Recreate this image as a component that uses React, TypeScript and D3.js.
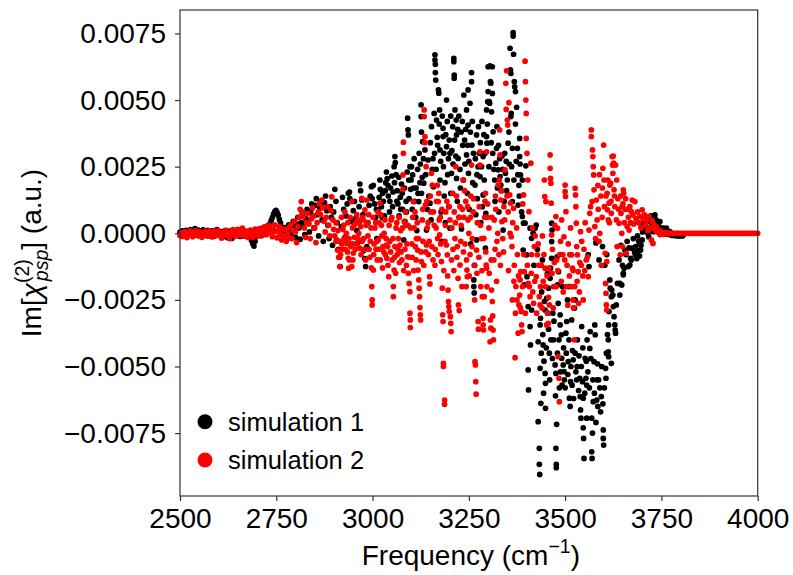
import React from "react";
import * as d3 from "d3";

// values are Im[chi] in units of 1e-4 (a.u.), frequency in cm^-1
const VALUE_UNIT = 1e-4;

const sim1: [number, number][] = [
  [2500,0.4],[2503,-0.6],[2506,0.9],[2509,0.1],[2512,-0.4],[2515,1.1],[2518,0.5],[2521,-0.2],[2524,0.8],[2527,1.4],
  [2530,0.6],[2533,-0.3],[2536,0.7],[2539,1.8],[2542,1.0],[2545,0.2],[2548,1.2],[2551,0.5],[2554,-0.5],[2557,0.8],
  [2560,1.3],[2563,0.3],[2566,-0.7],[2569,0.4],[2572,1.1],[2575,0.3],[2578,-0.9],[2581,0.2],[2584,0.9],[2587,0.1],
  [2590,-1.0],[2593,0.5],[2596,1.4],[2599,0.3],[2602,-0.6],[2605,0.6],[2608,-0.2],[2611,-1.3],[2614,0.4],[2617,1.0],
  [2620,-0.3],[2623,-1.6],[2626,0.1],[2629,0.8],[2632,-0.4],[2635,-1.9],[2638,-0.6],[2641,0.5],[2644,-0.8],[2647,0.2],
  [2650,1.0],[2653,-0.5],[2656,-1.2],[2659,0.3],[2662,-0.9],[2665,-0.2],[2668,0.6],[2671,-1.1],[2674,-0.3],[2677,0.7],
  [2680,-0.6],[2683,-1.8],[2686,-2.8],[2689,-3.9],[2692,-4.8],[2695,-3.0],[2698,-1.2],[2701,0.3],[2704,1.5],[2707,0.6],
  [2710,-0.9],[2713,0.8],[2716,2.0],[2719,1.1],[2722,-0.4],[2725,1.6],[2728,2.9],[2731,1.8],[2734,3.6],[2737,4.9],
  [2740,6.0],[2743,7.2],[2746,8.1],[2749,8.6],[2752,7.9],[2755,6.8],[2758,5.2],[2761,3.9],[2764,2.3],[2767,1.0],
  [2770,2.1],[2773,0.4],[2776,-1.2],[2779,1.5],[2782,3.2],[2785,0.8],[2788,-0.8],[2791,2.4],[2794,4.5],[2797,1.6],
  [2800,-1.5],[2803,3.5],[2806,6.0],[2809,2.0],[2812,-2.2],[2815,4.0],[2818,7.5],[2821,3.0],[2824,-0.5],[2827,5.5],
  [2830,9.0],[2833,4.2],[2836,0.5],[2839,8.0],[2842,11.0],[2845,6.5],[2848,2.0],[2851,10.5],[2854,13.0],[2857,7.0],
  [2860,-1.0],[2863,9.5],[2866,12.0],[2869,5.0],[2872,-3.0],[2875,11.5],[2878,14.0],[2881,8.5],[2884,3.0],[2887,-2.0],
  [2890,10.0],[2893,6.0],[2896,-4.5],[2899,8.0],
  [2902,16.5],[2905,12.0],[2908,4.0],[2911,-6.0],[2914,-9.0],[2916,-12.5],[2919,2.5],[2922,13.5],[2925,9.0],[2928,-1.5],
  [2931,6.5],[2934,11.0],[2937,15.0],[2940,15.5],[2941,13.0],[2944,4.5],[2947,-4.0],[2950,8.5],[2953,12.0],[2956,5.5],
  [2959,1.0],[2962,-3.5],[2965,10.0],[2967,18.5],[2969,16.0],[2972,12.5],[2975,7.0],[2977,-6.5],[2980,-9.5],[2982,-12.5],
  [2985,-5.0],[2988,4.0],[2991,10.5],[2994,14.0],[2997,17.5],[2999,13.0],
  [3002,18.0],[3005,11.0],[3008,6.0],[3010,9.0],[3011,-2.0],[3014,8.5],[3017,13.5],[3019,20.0],[3020,16.5],[3023,10.0],
  [3025,6.0],[3026,15.0],[3028,12.0],[3031,6.5],[3033,16.0],[3034,19.0],[3036,23.0],[3038,20.5],[3040,18.0],[3041,14.0],
  [3044,8.0],[3045,12.0],[3047,17.0],[3050,21.5],[3052,10.0],[3053,15.5],[3056,25.0],[3057,19.0],[3058,28.8],[3059,26.5],
  [3061,22.0],[3063,12.0],[3064,16.0],[3066,11.0],[3068,21.0],[3069,6.5],[3072,13.5],[3073,9.0],[3075,18.5],[3077,15.0],
  [3078,9.0],[3081,-2.5],[3083,17.0],[3084,4.5],[3087,12.0],[3088,8.0],[3090,23.0],[3091,43.2],[3092,38.8],[3093,36.9],
  [3094,20.0],[3095,13.0],[3097,25.0],[3099,16.5],[3100,20.0],
  [3101,25.0],[3103,9.0],[3104,21.9],[3106,17.0],[3108,28.0],[3109,12.0],[3112,6.0],[3113,17.0],[3115,1.0],[3117,24.0],
  [3118,15.0],[3120,11.9],[3121,30.0],[3123,19.0],[3124,26.0],[3126,48.2],[3126,43.8],[3127,38.0],[3127,15.0],[3129,21.0],
  [3130,34.4],[3132,28.0],[3133,18.8],[3136,31.3],[3138,22.0],[3140,1.2],[3142,9.0],[3144,27.5],[3146,14.0],[3149,11.3],
  [3150,34.0],[3152,5.0],[3153,40.0],[3155,24.0],[3157,28.0],[3158,17.5],[3160,45.0],[3161,30.0],[3162,67.0],[3162,65.0],
  [3163,63.4],[3163,60.3],[3164,57.5],[3165,24.0],[3166,42.5],[3168,36.0],[3169,33.0],[3171,53.8],[3172,52.6],[3173,41.0],
  [3174,46.3],[3175,31.3],[3175,20.0],[3177,27.0],[3178,8.0],[3180,-3.0],[3181,44.0],[3183,39.4],[3183,36.3],[3184,25.0],
  [3185,30.0],[3186,14.0],[3188,19.0],[3189,4.0],[3190,37.0],[3192,50.0],[3192,32.5],[3194,42.0],[3195,22.0],[3197,28.0],
  [3198,10.0],[3199,35.0],
  [3201,30.0],[3201,1.9],[3203,15.0],[3203,44.0],[3205,22.5],[3206,31.0],[3208,40.0],[3209,26.0],[3211,65.7],[3211,64.4],
  [3212,59.4],[3212,58.2],[3213,35.0],[3214,46.3],[3216,29.0],[3217,42.5],[3218,36.9],[3218,20.6],[3220,12.0],[3221,39.0],
  [3222,28.1],[3224,44.0],[3225,6.0],[3227,24.0],[3228,17.0],[3230,38.0],[3231,1.6],[3233,42.0],[3234,33.0],[3236,20.0],
  [3237,51.9],[3239,35.0],[3240,26.0],[3242,39.0],[3244,46.3],[3244,29.4],[3246,15.0],[3247,33.0],[3248,53.8],[3248,40.6],
  [3249,22.5],[3250,27.0],[3251,9.0],[3253,48.8],[3254,38.0],[3255,-4.0],[3257,60.3],[3257,56.9],[3258,33.1],[3259,42.0],
  [3260,19.0],[3262,30.0],[3263,-17.5],[3263,-20.0],[3264,-22.4],[3265,-12.0],[3266,18.1],[3267,28.0],[3268,7.0],[3270,36.9],
  [3270,-2.5],[3271,22.0],[3272,13.0],[3274,25.0],[3275,40.0],[3277,30.0],[3279,21.3],[3280,34.0],[3281,4.0],[3283,25.0],
  [3284,42.0],[3285,10.0],[3287,28.8],[3287,14.4],[3289,37.0],[3290,20.0],[3292,30.0],[3293,-5.6],[3294,7.5],[3296,46.3],
  [3296,36.3],[3297,33.8],[3298,41.0],[3299,49.4],[3300,62.5],[3300,53.2],
  [3302,25.0],[3303,49.4],[3304,48.8],[3305,62.8],[3306,56.9],[3307,56.3],[3308,34.0],[3309,45.6],[3311,62.5],[3311,52.5],
  [3312,30.0],[3313,38.1],[3315,24.0],[3317,20.0],[3318,12.0],[3320,26.3],[3322,31.9],[3323,40.0],[3324,17.0],[3326,23.8],
  [3327,33.0],[3328,8.0],[3330,28.0],[3331,21.3],[3333,18.1],[3334,16.0],[3336,29.0],[3338,24.0],[3339,1.2],[3342,12.0],
  [3343,30.0],[3345,22.5],[3347,27.0],[3348,16.0],[3350,20.0],[3352,33.8],[3352,14.4],[3354,38.0],[3355,26.0],[3357,69.4],
  [3358,61.3],[3359,60.0],[3359,43.8],[3360,45.0],[3361,25.0],[3363,31.9],[3363,11.9],[3365,75.3],[3365,74.0],[3366,67.2],
  [3367,20.0],[3368,56.9],[3369,55.0],[3371,53.2],[3371,41.0],[3373,27.0],[3374,47.3],[3376,31.9],[3377,22.0],[3378,10.6],
  [3380,18.0],[3381,14.0],[3382,35.6],[3382,28.8],[3383,26.0],[3384,21.9],[3387,8.0],[3389,20.0],[3389,6.3],[3391,-6.3],
  [3392,3.8],[3394,-19.4],[3396,3.8],[3398,25.3],[3400,-8.1],[3401,-16.3],[3404,-27.5],[3404,-51.3],[3405,-58.8],[3409,1.9],
  [3409,-35.0],[3410,-41.9],[3413,-1.9],[3413,-28.8],[3417,0.0],[3419,-12.0],
  [3422,1.9],[3425,3.1],[3428,-6.0],[3430,-40.7],[3430,-70.7],[3433,-80.7],[3433,-86.7],[3434,-90.5],[3435,-34.4],[3435,-50.7],
  [3436,-31.9],[3437,-63.8],[3438,-45.0],[3439,-22.0],[3441,-10.0],[3442,-38.0],[3443,-41.9],[3444,-60.0],[3445,-48.0],[3446,-25.6],
  [3448,-28.8],[3448,-52.6],[3449,-56.3],[3449,-65.7],[3451,-43.0],[3452,-24.4],[3454,-15.0],[3455,-30.0],[3457,-20.6],[3457,-36.0],
  [3459,-45.0],[3460,-55.0],[3461,-16.9],[3462,-13.1],[3463,-40.0],[3465,-9.4],[3465,-3.1],[3465,3.8],[3466,1.2],[3467,-47.0],
  [3468,-30.0],[3470,-40.0],[3471,-33.0],[3474,-49.4],[3475,-61.0],[3476,-52.6],[3476,-80.7],[3477,-86.7],[3477,-88.0],[3478,-71.7],
  [3479,-8.8],[3480,-19.4],[3480,-45.0],[3482,-26.3],[3483,-14.4],[3484,-40.0],[3485,-58.0],[3487,-30.6],[3487,-34.4],[3488,-52.0],
  [3490,-38.1],[3491,-46.9],[3492,-57.0],[3493,-20.0],[3495,-49.4],[3496,-43.0],[3497,-51.9],[3498,-55.0],[3500,-58.0],
  [3502,-37.5],[3503,-45.0],[3504,-33.1],[3506,-25.0],[3507,-53.0],[3508,-48.2],[3509,-20.0],[3510,-40.0],[3511,-61.9],[3513,-65.0],
  [3514,-55.7],[3515,-50.0],[3517,-32.5],[3518,-57.0],[3519,-44.0],[3521,-47.5],[3522,-62.0],[3524,-28.1],[3526,-25.0],[3526,-45.0],
  [3528,-52.0],[3530,-55.0],[3531,-50.0],[3532,-40.0],[3535,-59.0],[3536,-46.0],[3538,-54.4],[3539,-61.3],[3540,-66.3],[3541,-69.4],
  [3542,-50.0],[3543,-35.0],[3545,-55.7],[3546,-43.0],[3547,-61.9],[3547,-73.0],[3548,-77.0],[3549,-84.5],[3551,-60.0],[3552,-46.9],
  [3554,-54.4],[3555,-48.0],[3556,-57.0],[3556,-69.4],[3557,-40.0],[3559,-52.0],[3560,-8.0],[3562,-12.5],[3563,-58.0],[3564,-43.2],
  [3565,-36.9],[3567,-47.0],[3569,-69.4],[3569,-82.0],[3570,-84.5],[3571,-75.0],[3572,-55.0],[3573,-63.2],[3575,-48.2],[3576,-60.0],
  [3577,-34.4],[3578,-38.1],[3580,-3.6],[3580,-71.0],[3582,-62.6],[3583,-55.0],[3584,-49.0],[3585,-65.0],[3587,-55.0],[3588,-10.0],
  [3590,-58.0],[3592,-67.0],[3594,-61.3],[3595,-50.0],[3597,-5.0],[3598,-64.0],[3599,-73.8],[3599,-77.0],[3600,-79.5],
  [3602,-58.0],[3603,-12.0],[3605,-50.7],[3606,-54.4],[3607,-45.0],[3608,-8.0],[3610,-38.0],[3612,-40.0],[3612,-44.5],[3613,-46.3],
  [3613,-34.4],[3614,-29.4],[3616,-17.5],[3617,-20.6],[3620,-48.8],[3620,-23.8],[3621,-21.3],[3624,-23.2],[3625,-27.5],[3627,-31.3],
  [3629,-34.4],[3630,-36.3],[3631,-37.5],[3633,-26.9],[3636,-18.8],[3640,-10.0],[3642,-23.2],[3642,-18.8],[3645,-4.5],[3647,-19.4],
  [3649,-12.0],[3651,-15.6],[3651,-15.0],[3653,-13.1],[3655,-6.3],[3658,-8.0],[3661,-3.0],[3664,-12.5],[3666,-5.5],[3668,-11.9],
  [3670,-9.4],[3672,-10.0],[3674,-5.6],[3677,-2.0],[3680,-7.0],[3682,-8.0],[3683,-5.0],[3686,-9.5],[3688,-1.0],[3690,-6.5],
  [3691,-3.0],[3693,-8.5],[3694,-3.8],[3696,-6.3],[3697,-4.5],[3698,2.5],[3700,-2.5],[3701,0.5],[3704,4.0],[3707,1.5],
  [3710,5.5],[3713,2.0],[3715,0.0],[3717,-1.3],[3720,4.4],[3723,6.5],[3726,3.0],[3729,0.6],[3733,6.9],[3736,5.0],
  [3739,2.5],[3742,3.8],[3746,4.4],[3749,2.0],[3752,1.0],[3755,1.9],[3758,0.5],[3761,-0.3],[3763,1.9],[3766,0.8],
  [3769,-0.5],[3772,0.6],[3775,-0.2],[3778,-0.8],[3781,-0.5],[3784,-0.6],[3787,-0.9],[3789,-0.6],[3792,-1.0],[3795,-0.8],
  [3798,-1.0],[3801,-0.7],[3804,-1.0],[3806,-0.8],
];

const sim2: [number, number][] = [
  [2500,-0.8],[2503,0.2],[2506,-1.2],[2509,-0.3],[2512,0.6],[2515,-0.9],[2518,-1.6],[2521,0.1],[2524,-0.5],[2527,0.9],
  [2530,-0.2],[2533,-1.3],[2536,0.4],[2539,-0.6],[2542,1.0],[2545,0.0],[2548,-1.0],[2551,0.5],[2554,-0.4],[2557,-1.5],
  [2560,0.2],[2563,-0.7],[2566,0.8],[2569,-0.2],[2572,-1.1],[2575,0.3],[2578,0.9],[2581,-0.5],[2584,-1.4],[2587,0.0],
  [2590,0.7],[2593,-0.8],[2596,-0.1],[2599,1.0],[2602,0.2],[2605,-0.9],[2608,-1.8],[2611,-0.4],[2614,0.5],[2617,-0.6],
  [2620,1.1],[2623,0.1],[2626,-1.0],[2629,-2.0],[2632,-0.3],[2635,0.6],[2638,1.4],[2641,0.2],[2644,-1.1],[2647,0.4],
  [2650,1.5],[2653,0.3],[2656,-0.8],[2659,0.7],[2662,1.9],[2665,0.5],[2668,-0.9],[2671,0.8],[2674,-0.4],[2677,-1.6],
  [2680,0.3],[2683,1.2],[2686,-0.2],[2689,-1.5],[2692,0.6],[2695,1.6],[2698,0.2],[2701,-1.0],[2704,0.5],[2707,1.8],
  [2710,0.4],[2713,-0.8],[2716,1.0],[2719,2.4],[2722,0.8],[2725,-0.5],[2728,1.7],[2731,3.0],[2734,1.2],[2737,0.0],
  [2740,-1.3],[2743,1.5],[2746,3.2],[2749,0.6],[2752,-1.7],[2755,0.9],[2758,2.5],[2761,-0.4],[2764,-2.5],[2767,-0.8],
  [2770,1.5],[2773,-1.5],[2776,-3.0],[2779,0.0],[2782,2.0],[2785,-1.8],[2788,3.0],[2791,-2.0],[2794,1.0],[2797,4.5],
  [2800,0.5],[2803,-3.5],[2806,2.5],[2809,6.0],[2812,9.0],[2815,11.9],[2817,8.0],[2820,6.2],[2823,2.0],[2826,-1.5],
  [2829,4.0],[2832,7.5],[2835,3.5],[2838,-2.0],[2841,5.5],[2844,9.5],[2847,6.5],[2850,2.0],[2853,-3.5],[2856,4.0],
  [2859,8.0],[2862,11.0],[2865,7.0],[2868,12.5],[2871,9.5],[2874,4.5],[2877,0.5],[2880,6.0],[2883,10.0],[2886,3.0],
  [2889,-1.0],[2892,8.5],[2894,13.7],[2897,5.0],[2899,1.5],
  [2902,-1.0],[2905,-3.0],[2905,4.0],[2907,-2.5],[2909,-6.3],[2910,1.0],[2912,-9.0],[2914,-3.0],[2915,-12.5],[2917,-8.0],
  [2919,6.0],[2920,-4.0],[2922,-6.0],[2923,1.5],[2925,3.0],[2926,-2.0],[2928,8.0],[2929,-6.0],[2931,-3.0],[2932,0.0],
  [2933,-3.8],[2935,-7.0],[2936,4.0],[2937,-9.4],[2938,-13.1],[2939,-2.0],[2940,-10.0],[2942,6.0],[2943,-5.0],[2945,-4.0],
  [2946,11.9],[2946,-12.5],[2948,2.0],[2949,-10.0],[2950,-7.5],[2952,3.0],[2953,-1.5],[2955,-6.0],[2956,3.8],[2958,-4.0],
  [2959,7.0],[2961,5.0],[2962,-2.0],[2964,0.0],[2966,4.0],[2967,-5.6],[2969,2.5],[2970,-8.0],[2972,13.1],[2973,-3.0],
  [2974,6.0],[2976,5.0],[2977,-2.0],[2979,-6.0],[2980,8.8],[2982,-10.0],[2983,3.0],[2985,12.5],[2986,4.0],[2988,-1.0],
  [2990,7.0],[2991,-6.0],[2993,-9.0],[2994,-3.0],[2996,2.0],[2997,-13.0],[2998,-20.0],[2999,-25.0],[2999,-26.9],
  [3001,6.0],[3002,-13.8],[3003,-8.0],[3004,-4.0],[3006,2.0],[3008,4.0],[3009,-6.0],[3011,-3.0],[3012,-10.0],[3014,8.0],
  [3015,-2.5],[3016,-6.0],[3017,4.0],[3019,11.3],[3020,-10.0],[3021,7.0],[3023,3.0],[3024,-1.0],[3026,-13.0],[3027,-5.0],
  [3029,-7.0],[3030,0.0],[3032,5.0],[3033,-8.0],[3035,-2.0],[3036,-4.4],[3037,-9.4],[3039,-5.0],[3040,-12.0],[3042,-16.3],
  [3043,3.0],[3045,-3.0],[3047,-7.0],[3048,5.0],[3050,6.0],[3051,-10.0],[3053,-2.0],[3054,-20.0],[3054,-23.8],[3056,-13.8],
  [3057,-9.0],[3058,-5.0],[3060,-15.0],[3061,2.0],[3063,4.0],[3064,-8.0],[3066,-6.0],[3067,-2.0],[3069,6.0],[3070,-11.0],
  [3071,-4.4],[3073,1.0],[3074,-7.0],[3076,-10.0],[3078,2.0],[3079,16.5],[3079,21.9],[3080,30.0],[3080,34.2],[3081,-14.0],
  [3082,4.4],[3084,-6.0],[3085,8.0],[3086,3.0],[3088,-12.0],[3089,-4.0],[3091,-8.8],[3092,3.0],[3093,-15.0],[3095,-18.8],
  [3096,-9.0],[3097,-21.9],[3097,-30.0],[3098,-32.5],[3098,-35.4],[3099,2.0],
  [3102,-4.0],[3103,-9.0],[3104,6.0],[3106,11.9],[3107,-14.0],[3108,2.0],[3110,8.0],[3111,-5.0],[3113,-10.0],[3114,-2.0],
  [3116,4.0],[3117,-6.3],[3118,-13.8],[3119,-2.0],[3120,-17.5],[3121,-20.6],[3122,-23.8],[3123,-27.9],[3124,-30.6],[3125,-32.5],
  [3126,-7.0],[3127,-10.6],[3129,5.0],[3130,9.0],[3131,-3.0],[3133,-12.0],[3134,46.3],[3134,43.8],[3136,36.3],[3136,34.0],
  [3137,10.6],[3138,-7.0],[3139,25.0],[3140,-4.4],[3141,12.0],[3142,2.0],[3144,4.0],[3145,-8.0],[3147,-3.0],[3148,-16.3],
  [3149,-19.0],[3150,14.0],[3151,8.0],[3153,22.5],[3154,-5.0],[3155,18.1],[3157,-10.0],[3158,8.0],[3160,3.0],[3162,-12.0],
  [3163,-6.0],[3165,2.0],[3166,12.0],[3168,18.0],[3169,-2.0],[3170,-8.0],[3171,11.9],[3172,15.0],[3173,5.0],[3174,-0.6],
  [3176,6.0],[3177,-4.0],[3179,-10.6],[3180,9.0],[3181,-20.6],[3182,-30.6],[3183,-33.1],[3184,-48.8],[3184,-50.0],[3185,-14.0],
  [3187,-62.6],[3187,-64.2],[3188,-3.0],[3189,3.0],[3190,8.0],[3192,-4.4],[3193,12.0],[3194,-8.1],[3195,-16.0],[3196,-21.3],
  [3197,-25.6],[3198,-27.5],[3199,-29.4],[3199,10.0],
  [3201,5.0],[3202,-31.3],[3203,-33.8],[3204,-36.9],[3205,-10.0],[3206,2.0],[3208,15.0],[3209,-6.0],[3211,-14.0],[3212,8.0],
  [3214,-2.0],[3215,4.0],[3216,25.0],[3218,14.0],[3219,-9.0],[3220,-5.0],[3222,-16.9],[3223,-26.9],[3224,6.0],[3225,-29.0],
  [3227,-11.9],[3227,10.0],[3229,-3.0],[3230,3.0],[3232,-20.0],[3233,9.0],[3235,20.0],[3236,-7.0],[3237,6.0],[3239,16.0],
  [3240,-4.0],[3242,12.0],[3243,-20.0],[3244,-10.0],[3245,-13.8],[3246,-16.3],[3247,10.0],[3248,5.0],[3250,0.0],[3251,-16.0],
  [3253,-8.0],[3254,6.0],[3255,14.0],[3257,25.6],[3258,-5.0],[3259,-2.0],[3261,8.0],[3262,13.0],[3264,-12.0],[3265,-25.0],
  [3266,-48.2],[3267,-49.4],[3268,-55.7],[3269,-60.4],[3270,-6.3],[3271,-15.0],[3272,4.0],[3274,-33.1],[3275,-36.0],[3276,-9.0],
  [3277,10.0],[3279,25.6],[3279,30.6],[3280,3.0],[3281,-20.0],[3283,-2.0],[3284,-14.0],[3285,-23.8],[3287,-31.9],[3287,-34.4],
  [3288,-36.3],[3289,-1.9],[3290,-23.8],[3291,6.0],[3292,12.0],[3293,15.0],[3294,-7.0],[3295,-11.9],[3296,30.6],[3296,-13.1],
  [3297,-20.0],[3298,6.0],[3299,11.0],
  [3302,2.0],[3303,-15.0],[3305,-40.7],[3306,-32.5],[3307,-35.6],[3308,-10.0],[3309,-21.3],[3310,6.0],[3311,-25.6],[3312,-31.0],
  [3313,-36.3],[3314,-40.0],[3315,-10.0],[3316,5.0],[3318,-6.0],[3319,14.0],[3320,9.0],[3322,-18.0],[3323,-3.0],[3325,0.0],
  [3326,18.1],[3328,-8.0],[3329,20.0],[3330,38.8],[3331,29.4],[3332,-12.0],[3333,12.5],[3335,16.0],[3336,4.4],[3338,-2.0],
  [3340,-7.0],[3341,10.0],[3343,5.0],[3344,23.8],[3346,56.3],[3347,46.5],[3348,61.0],[3349,14.0],[3350,42.5],[3351,40.6],
  [3352,8.0],[3353,-14.0],[3354,49.0],[3356,14.4],[3357,0.0],[3358,11.3],[3360,-1.3],[3362,-5.0],[3363,-25.0],[3364,4.0],
  [3366,9.4],[3367,-18.0],[3368,-12.0],[3370,-46.7],[3371,-30.0],[3372,-20.0],[3374,2.0],[3375,-25.0],[3376,-8.0],[3378,-37.5],
  [3379,-16.0],[3380,-26.9],[3382,-23.2],[3383,-17.5],[3384,-28.0],[3385,-14.4],[3386,-29.4],[3387,-34.4],[3388,-36.9],[3389,-20.0],
  [3390,11.0],[3392,14.4],[3393,-8.0],[3394,-14.4],[3396,64.6],[3397,56.9],[3397,-30.0],[3398,50.0],[3399,45.0],[3399,35.6],
  [3401,30.0],[3402,-12.0],[3403,20.0],[3404,-18.8],[3406,8.1],[3407,-20.0],[3409,-23.8],[3411,26.3],[3412,-15.0],[3413,-8.0],
  [3415,2.0],[3416,-22.0],[3418,-26.3],[3420,-5.0],
  [3421,-18.0],[3422,-1.0],[3425,-16.3],[3426,-30.0],[3428,-8.1],[3430,-4.0],[3431,-12.0],[3433,-23.8],[3435,-26.9],[3436,-20.0],
  [3438,-12.0],[3440,-28.0],[3441,-1.0],[3443,-18.0],[3445,-8.0],[3446,20.0],[3447,13.8],[3448,-13.1],[3449,-20.0],[3450,11.9],
  [3452,-34.4],[3453,-16.0],[3454,-30.0],[3456,-33.8],[3457,-24.0],[3458,-13.1],[3459,-26.9],[3461,29.4],[3461,24.4],[3462,20.6],
  [3463,18.8],[3464,11.3],[3465,-0.6],[3466,-15.0],[3467,-6.0],[3469,-28.0],[3470,-20.0],[3472,-11.0],[3473,3.0],[3476,6.3],
  [3477,-20.0],[3478,-10.0],[3480,1.9],[3481,-14.0],[3482,-46.3],[3484,-54.4],[3485,-63.2],[3486,-8.0],[3488,-3.0],[3490,-18.0],
  [3491,5.0],[3494,-8.0],[3495,-22.0],[3497,-1.3],[3499,-10.0],[3500,18.1],[3500,15.6],[3501,13.8],[3502,8.1],[3503,-20.0],
  [3505,-12.0],[3507,-27.0],[3508,-4.0],[3511,-16.0],[3512,-8.0],[3514,2.0],[3516,-20.0],[3517,-8.1],[3519,-13.1],[3520,-25.0],
  [3521,-14.0],[3522,-28.0],[3524,-40.0],[3525,-20.0],[3526,16.9],[3527,14.4],[3528,10.0],[3529,3.8],[3530,-5.0],[3531,-18.0],
  [3532,-8.1],[3534,-14.4],[3535,-26.3],[3537,-22.0],[3538,-11.0],[3540,0.6],[3542,-12.0],[3543,-3.0],[3546,-16.0],[3547,-25.0],
  [3549,-6.0],[3551,-14.0],
  [3552,4.0],[3555,-10.0],[3558,-8.8],[3560,-16.3],[3562,1.2],[3564,7.5],[3566,10.0],[3568,38.8],[3568,36.3],[3570,11.9],
  [3571,31.3],[3572,28.8],[3573,25.0],[3574,21.9],[3575,16.3],[3577,2.5],[3579,-2.0],[3581,12.5],[3583,5.0],[3585,18.0],
  [3586,9.0],[3588,-3.0],[3589,22.0],[3590,0.0],[3593,14.0],[3594,-12.0],[3596,6.0],[3597,17.0],[3598,24.4],[3600,33.1],
  [3601,20.0],[3602,10.0],[3604,-7.5],[3605,-18.8],[3606,-22.5],[3606,14.0],[3607,-26.9],[3608,-10.6],[3608,-28.8],[3609,15.0],
  [3610,8.8],[3611,20.0],[3612,5.0],[3614,11.3],[3615,4.0],[3616,18.1],[3618,18.8],[3619,12.0],[3620,7.5],[3622,28.8],
  [3623,25.6],[3624,22.5],[3625,29.0],[3626,26.3],[3627,16.3],[3628,14.0],[3629,10.0],[3631,25.6],[3633,5.0],[3634,20.0],
  [3635,-5.0],[3637,13.0],[3639,9.0],[3640,3.8],[3643,-8.1],[3644,14.0],[3645,7.5],[3647,0.0],[3648,10.0],[3649,-5.0],
  [3650,11.0],[3651,16.3],[3652,15.0],[3654,4.0],[3656,9.0],[3657,13.0],[3659,-7.5],[3661,2.5],[3663,9.0],[3664,6.0],
  [3666,1.2],[3668,10.0],[3670,4.0],[3672,8.1],[3674,12.5],[3676,6.9],[3678,3.5],[3681,11.9],[3684,5.5],[3688,8.0],
  [3691,4.0],[3694,6.3],[3697,2.0],[3700,8.8],[3703,5.0],[3706,6.9],[3709,3.0],[3712,5.0],[3715,1.0],[3718,6.3],
  [3721,2.0],[3724,-2.5],[3726,4.4],[3728,-3.8],[3731,3.1],[3734,1.0],[3737,2.5],[3740,0.5],[3743,1.2],[3746,-0.5],
  [3749,0.8],[3752,0.2],[3755,-0.4],[3758,0.3],[3761,0.0],[3764,0.2],[3767,-0.2],[3770,0.0],[3773,0.1],[3776,0.0],
  [3780,0.0],[3785,0],[3790,0],[3795,0],[3800,0],[3805,0],[3810,0],[3815,0],[3820,0],[3825,0],
  [3830,0],[3835,0],[3840,0],[3845,0],[3850,0],[3855,0],[3860,0],[3865,0],[3870,0],[3875,0],
  [3880,0],[3885,0],[3890,0],[3895,0],[3900,0],[3905,0],[3910,0],[3915,0],[3920,0],[3925,0],
  [3930,0],[3935,0],[3940,0],[3945,0],[3950,0],[3955,0],[3960,0],[3965,0],[3970,0],[3975,0],
  [3980,0],[3985,0],[3990,0],[3995,0],[4000,0],
];

const xTicks = [2500, 2750, 3000, 3250, 3500, 3750, 4000];
const yTicks = [-0.0075, -0.005, -0.0025, 0, 0.0025, 0.005, 0.0075];
const seriesNames = ["simulation 1", "simulation 2"];
const seriesColors = ["black", "red"];

const WIDTH = 793;
const HEIGHT = 575;
const plot = { left: 180, right: 757.7, top: 10, bottom: 496 };
const FONT = '"Liberation Sans", Arial, Helvetica, sans-serif';

const appendPoints = (svg, x, y) => {
  [sim1, sim2].forEach((data, i) => {
    svg.append("g")
      .selectAll("circle")
      .data(data)
      .enter()
      .append("circle")
      .attr("cx", d => x(d[0]))
      .attr("cy", d => y(d[1] * VALUE_UNIT))
      .attr("r", 2.85)
      .attr("fill", seriesColors[i]);
  });
};

const appendAxes = (svg, x, y) => {
  const xAxis = svg.append("g")
    .attr("transform", `translate(0,${plot.bottom})`)
    .call(d3.axisBottom(x).tickValues(xTicks).tickSize(5).tickPadding(7).tickFormat(d3.format("d")));
  const yAxis = svg.append("g")
    .attr("transform", `translate(${plot.left},0)`)
    .call(d3.axisLeft(y).tickValues(yTicks).tickSize(5).tickPadding(9).tickFormat(d3.format(".4f")));

  [xAxis, yAxis].forEach(g => {
    g.select(".domain").remove();
    g.selectAll(".tick line").attr("stroke", "#333").attr("stroke-width", 1.2);
    g.selectAll(".tick text")
      .attr("fill", "black")
      .style("font-family", FONT)
      .style("font-size", "28px");
  });

  svg.append("rect")
    .attr("x", plot.left)
    .attr("y", plot.top)
    .attr("width", plot.right - plot.left)
    .attr("height", plot.bottom - plot.top)
    .attr("fill", "none")
    .attr("stroke", "#333")
    .attr("stroke-width", 1.2);
};

const appendLabels = (svg) => {
  const xl = svg.append("text")
    .attr("x", (plot.left + plot.right) / 2 + 2)
    .attr("y", 565)
    .attr("text-anchor", "middle")
    .style("font-family", FONT)
    .style("font-size", "28px");
  xl.append("tspan").text("Frequency (cm");
  xl.append("tspan").attr("dy", -12).style("font-size", "19.5px").text("\u22121");
  xl.append("tspan").attr("dy", 12).text(")");

  const yl = svg.append("text")
    .attr("transform", `translate(41,${(plot.top + plot.bottom) / 2}) rotate(-90)`)
    .attr("text-anchor", "middle")
    .style("font-family", FONT)
    .style("font-size", "28px");
  yl.append("tspan").text("Im[");
  yl.append("tspan").style("font-style", "italic").text("\u03c7");
  yl.append("tspan").attr("dy", -12).style("font-size", "19.5px").text("(2)");
  yl.append("tspan").attr("dx", -22).attr("dy", 19).style("font-size", "19.5px").style("font-style", "italic").text("psp");
  yl.append("tspan").attr("dy", -7).text("] (a.u.)");
};

const appendLegend = (svg) => {
  seriesNames.forEach((name, i) => {
    const cy = 421.7 + i * 38.3;
    svg.append("circle").attr("cx", 205).attr("cy", cy).attr("r", 7.5).attr("fill", seriesColors[i]);
    svg.append("text")
      .attr("x", 228)
      .attr("y", cy + 9)
      .style("font-family", FONT)
      .style("font-size", "25.5px")
      .text(name);
  });
};

const App = () => {
  const ref = React.useRef(null);

  React.useEffect(() => {
    const svg = d3.select(ref.current);
    svg.selectAll("*").remove();
    const x = d3.scaleLinear().domain([2500, 4000]).range([plot.left, plot.right]);
    const y = d3.scaleLinear().domain([-0.00986, 0.00838]).range([plot.bottom, plot.top]);
    appendPoints(svg, x, y);
    appendAxes(svg, x, y);
    appendLabels(svg);
    appendLegend(svg);
  }, []);

  return (
    <svg
      ref={ref}
      width={WIDTH}
      height={HEIGHT}
      style={{ position: "absolute", left: 0, top: 0, background: "white" }}
    />
  );
};

export default App;
